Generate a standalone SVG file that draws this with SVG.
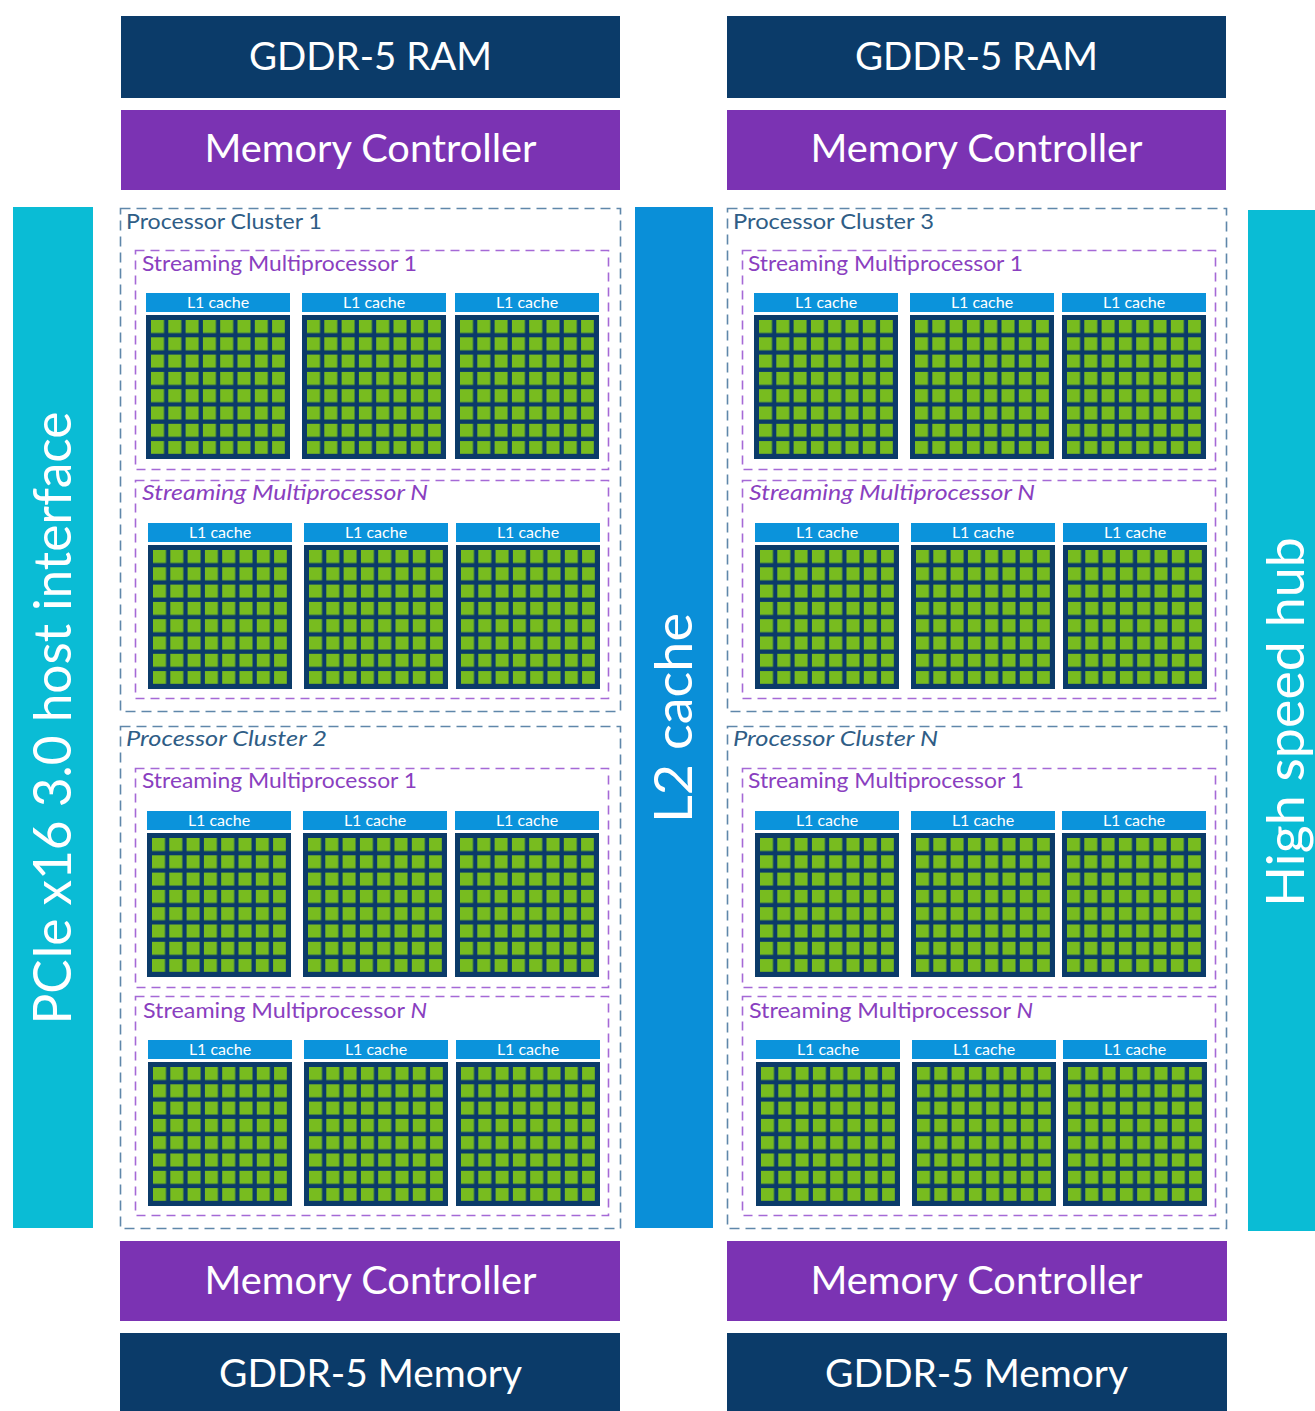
<svg xmlns="http://www.w3.org/2000/svg" width="1315" height="1411" viewBox="0 0 1315 1411">
  <style>
    .ram { fill: #0b3b69; }
    .mc { fill: #7b33b3; }
    .bar-text { fill: #ffffff; font-family: Lato, "Open Sans", sans-serif; font-size: 39px; text-anchor: middle; }
    .vtext { fill: #ffffff; font-family: Lato, "Open Sans", sans-serif; font-size: 52px; text-anchor: middle; }
    .cluster { fill: none; stroke: #5f87aa; stroke-width: 1.6; stroke-dasharray: 10 6; }
    .cluster-label { fill: #2f5d86; font-family: Lato, "Open Sans", sans-serif; font-size: 21px; }
    .sm { fill: none; stroke: #a569d6; stroke-width: 1.6; stroke-dasharray: 9 6; }
    .sm-label { fill: #8a3fc0; font-family: Lato, "Open Sans", sans-serif; font-size: 21.5px; }
    .l1 { fill: #0b93db; }
    .l1-text { fill: #ffffff; font-family: Lato, "Open Sans", sans-serif; font-size: 16px; text-anchor: middle; }
    .grid { fill: #0b3b69; }
    .it { font-style: italic; }
  </style>
  <defs>
    <pattern id="cores" patternUnits="userSpaceOnUse" x="5" y="27" width="17.3" height="17.3">
      <rect x="0" y="0" width="13" height="13" fill="#78bc1f"/>
    </pattern>
  </defs>

  <!-- memory banks -->
  <g id="ram-top-left"><rect class="ram" x="121" y="16" width="499" height="82"/><text class="bar-text" x="370.5" y="70" textLength="243" lengthAdjust="spacingAndGlyphs">GDDR-5 RAM</text></g>
  <g id="ram-top-right"><rect class="ram" x="727" y="16" width="499" height="82"/><text class="bar-text" x="976.5" y="70" textLength="243" lengthAdjust="spacingAndGlyphs">GDDR-5 RAM</text></g>
  <g id="mc-top-left"><rect class="mc" x="121" y="110" width="499" height="80"/><text class="bar-text" x="370.5" y="162" textLength="332" lengthAdjust="spacingAndGlyphs">Memory Controller</text></g>
  <g id="mc-top-right"><rect class="mc" x="727" y="110" width="499" height="80"/><text class="bar-text" x="976.5" y="162" textLength="332" lengthAdjust="spacingAndGlyphs">Memory Controller</text></g>
  <g id="mc-bottom-left"><rect class="mc" x="120" y="1241" width="500" height="80"/><text class="bar-text" x="370.5" y="1294" textLength="332" lengthAdjust="spacingAndGlyphs">Memory Controller</text></g>
  <g id="mc-bottom-right"><rect class="mc" x="727" y="1241" width="500" height="80"/><text class="bar-text" x="976.5" y="1294" textLength="332" lengthAdjust="spacingAndGlyphs">Memory Controller</text></g>
  <g id="mem-bottom-left"><rect class="ram" x="120" y="1333" width="500" height="78"/><text class="bar-text" x="370.5" y="1387" textLength="303" lengthAdjust="spacingAndGlyphs">GDDR-5 Memory</text></g>
  <g id="mem-bottom-right"><rect class="ram" x="727" y="1333" width="500" height="78"/><text class="bar-text" x="976.5" y="1387" textLength="303" lengthAdjust="spacingAndGlyphs">GDDR-5 Memory</text></g>

  <!-- vertical buses -->
  <g id="pcie"><rect x="13" y="207" width="80" height="1021" fill="#0abcd5"/><text class="vtext" transform="translate(71,718) rotate(-90)" textLength="613" lengthAdjust="spacingAndGlyphs">PCIe x16 3.0 host interface</text></g>
  <g id="l2"><rect x="635" y="207" width="78" height="1021" fill="#0a8fd8"/><text class="vtext" transform="translate(692,718) rotate(-90)" textLength="210" lengthAdjust="spacingAndGlyphs">L2 cache</text></g>
  <g id="hub"><rect x="1248" y="210" width="67" height="1021" fill="#0abcd5"/><text class="vtext" transform="translate(1304,722) rotate(-90)" textLength="370" lengthAdjust="spacingAndGlyphs">High speed hub</text></g>

  <!-- processor clusters -->
  <g id="cluster-1">
    <rect class="cluster" x="120.5" y="208.5" width="500" height="503"/>
    <text class="cluster-label" x="126" y="229" textLength="196" lengthAdjust="spacingAndGlyphs">Processor Cluster 1</text>
  </g>
  <g id="cluster-2">
    <rect class="cluster" x="120.5" y="726.5" width="500" height="502"/>
    <text class="cluster-label it" x="126" y="746" textLength="201" lengthAdjust="spacingAndGlyphs">Processor Cluster 2</text>
  </g>
  <g id="cluster-3">
    <rect class="cluster" x="727.5" y="208.5" width="499" height="503"/>
    <text class="cluster-label" x="733" y="229" textLength="201" lengthAdjust="spacingAndGlyphs">Processor Cluster 3</text>
  </g>
  <g id="cluster-n">
    <rect class="cluster" x="727.5" y="726.5" width="499" height="502"/>
    <text class="cluster-label it" x="733" y="746" textLength="205" lengthAdjust="spacingAndGlyphs">Processor Cluster N</text>
  </g>

  <!-- streaming multiprocessors -->
  <g id="sm-1-1"><rect class="sm" x="135.5" y="250.5" width="473" height="219"/><text class="sm-label" x="142" y="271" textLength="275" lengthAdjust="spacingAndGlyphs">Streaming Multiprocessor 1</text></g>
  <g id="sm-1-n"><rect class="sm" x="135.5" y="480.5" width="473" height="218"/><text class="sm-label it" x="142" y="500" textLength="286" lengthAdjust="spacingAndGlyphs">Streaming Multiprocessor N</text></g>
  <g id="sm-2-1"><rect class="sm" x="135.5" y="768.5" width="473" height="219"/><text class="sm-label" x="142" y="788" textLength="275" lengthAdjust="spacingAndGlyphs">Streaming Multiprocessor 1</text></g>
  <g id="sm-2-n"><rect class="sm" x="135.5" y="996.5" width="473" height="219"/><text class="sm-label" x="143" y="1018" textLength="284" lengthAdjust="spacingAndGlyphs">Streaming Multiprocessor <tspan class="it">N</tspan></text></g>
  <g id="sm-3-1"><rect class="sm" x="742.5" y="250.5" width="473" height="219"/><text class="sm-label" x="748" y="271" textLength="275" lengthAdjust="spacingAndGlyphs">Streaming Multiprocessor 1</text></g>
  <g id="sm-3-n"><rect class="sm" x="742.5" y="480.5" width="473" height="218"/><text class="sm-label it" x="749" y="500" textLength="286" lengthAdjust="spacingAndGlyphs">Streaming Multiprocessor N</text></g>
  <g id="sm-n-1"><rect class="sm" x="742.5" y="768.5" width="473" height="219"/><text class="sm-label" x="748" y="788" textLength="276" lengthAdjust="spacingAndGlyphs">Streaming Multiprocessor 1</text></g>
  <g id="sm-n-n"><rect class="sm" x="742.5" y="996.5" width="473" height="219"/><text class="sm-label" x="749" y="1018" textLength="284" lengthAdjust="spacingAndGlyphs">Streaming Multiprocessor <tspan class="it">N</tspan></text></g>

  <!-- core blocks: L1 cache bar over an 8x8 core grid -->
  <g id="cores-1-1-a" transform="translate(146,293)"><rect class="l1" width="144" height="19"/><text class="l1-text" x="72" y="15">L1 cache</text><rect class="grid" y="22" width="144" height="144"/><rect x="5" y="27" width="134" height="134" fill="url(#cores)"/></g>
  <g id="cores-1-1-b" transform="translate(302,293)"><rect class="l1" width="144" height="19"/><text class="l1-text" x="72" y="15">L1 cache</text><rect class="grid" y="22" width="144" height="144"/><rect x="5" y="27" width="134" height="134" fill="url(#cores)"/></g>
  <g id="cores-1-1-c" transform="translate(455,293)"><rect class="l1" width="144" height="19"/><text class="l1-text" x="72" y="15">L1 cache</text><rect class="grid" y="22" width="144" height="144"/><rect x="5" y="27" width="134" height="134" fill="url(#cores)"/></g>

  <g id="cores-1-n-a" transform="translate(148,523)"><rect class="l1" width="144" height="19"/><text class="l1-text" x="72" y="15">L1 cache</text><rect class="grid" y="22" width="144" height="144"/><rect x="5" y="27" width="134" height="134" fill="url(#cores)"/></g>
  <g id="cores-1-n-b" transform="translate(304,523)"><rect class="l1" width="144" height="19"/><text class="l1-text" x="72" y="15">L1 cache</text><rect class="grid" y="22" width="144" height="144"/><rect x="5" y="27" width="134" height="134" fill="url(#cores)"/></g>
  <g id="cores-1-n-c" transform="translate(456,523)"><rect class="l1" width="144" height="19"/><text class="l1-text" x="72" y="15">L1 cache</text><rect class="grid" y="22" width="144" height="144"/><rect x="5" y="27" width="134" height="134" fill="url(#cores)"/></g>

  <g id="cores-2-1-a" transform="translate(147,811)"><rect class="l1" width="144" height="19"/><text class="l1-text" x="72" y="15">L1 cache</text><rect class="grid" y="22" width="144" height="144"/><rect x="5" y="27" width="134" height="134" fill="url(#cores)"/></g>
  <g id="cores-2-1-b" transform="translate(303,811)"><rect class="l1" width="144" height="19"/><text class="l1-text" x="72" y="15">L1 cache</text><rect class="grid" y="22" width="144" height="144"/><rect x="5" y="27" width="134" height="134" fill="url(#cores)"/></g>
  <g id="cores-2-1-c" transform="translate(455,811)"><rect class="l1" width="144" height="19"/><text class="l1-text" x="72" y="15">L1 cache</text><rect class="grid" y="22" width="144" height="144"/><rect x="5" y="27" width="134" height="134" fill="url(#cores)"/></g>

  <g id="cores-2-n-a" transform="translate(148,1040)"><rect class="l1" width="144" height="19"/><text class="l1-text" x="72" y="15">L1 cache</text><rect class="grid" y="22" width="144" height="144"/><rect x="5" y="27" width="134" height="134" fill="url(#cores)"/></g>
  <g id="cores-2-n-b" transform="translate(304,1040)"><rect class="l1" width="144" height="19"/><text class="l1-text" x="72" y="15">L1 cache</text><rect class="grid" y="22" width="144" height="144"/><rect x="5" y="27" width="134" height="134" fill="url(#cores)"/></g>
  <g id="cores-2-n-c" transform="translate(456,1040)"><rect class="l1" width="144" height="19"/><text class="l1-text" x="72" y="15">L1 cache</text><rect class="grid" y="22" width="144" height="144"/><rect x="5" y="27" width="134" height="134" fill="url(#cores)"/></g>

  <g id="cores-3-1-a" transform="translate(754,293)"><rect class="l1" width="144" height="19"/><text class="l1-text" x="72" y="15">L1 cache</text><rect class="grid" y="22" width="144" height="144"/><rect x="5" y="27" width="134" height="134" fill="url(#cores)"/></g>
  <g id="cores-3-1-b" transform="translate(910,293)"><rect class="l1" width="144" height="19"/><text class="l1-text" x="72" y="15">L1 cache</text><rect class="grid" y="22" width="144" height="144"/><rect x="5" y="27" width="134" height="134" fill="url(#cores)"/></g>
  <g id="cores-3-1-c" transform="translate(1062,293)"><rect class="l1" width="144" height="19"/><text class="l1-text" x="72" y="15">L1 cache</text><rect class="grid" y="22" width="144" height="144"/><rect x="5" y="27" width="134" height="134" fill="url(#cores)"/></g>

  <g id="cores-3-n-a" transform="translate(755,523)"><rect class="l1" width="144" height="19"/><text class="l1-text" x="72" y="15">L1 cache</text><rect class="grid" y="22" width="144" height="144"/><rect x="5" y="27" width="134" height="134" fill="url(#cores)"/></g>
  <g id="cores-3-n-b" transform="translate(911,523)"><rect class="l1" width="144" height="19"/><text class="l1-text" x="72" y="15">L1 cache</text><rect class="grid" y="22" width="144" height="144"/><rect x="5" y="27" width="134" height="134" fill="url(#cores)"/></g>
  <g id="cores-3-n-c" transform="translate(1063,523)"><rect class="l1" width="144" height="19"/><text class="l1-text" x="72" y="15">L1 cache</text><rect class="grid" y="22" width="144" height="144"/><rect x="5" y="27" width="134" height="134" fill="url(#cores)"/></g>

  <g id="cores-n-1-a" transform="translate(755,811)"><rect class="l1" width="144" height="19"/><text class="l1-text" x="72" y="15">L1 cache</text><rect class="grid" y="22" width="144" height="144"/><rect x="5" y="27" width="134" height="134" fill="url(#cores)"/></g>
  <g id="cores-n-1-b" transform="translate(911,811)"><rect class="l1" width="144" height="19"/><text class="l1-text" x="72" y="15">L1 cache</text><rect class="grid" y="22" width="144" height="144"/><rect x="5" y="27" width="134" height="134" fill="url(#cores)"/></g>
  <g id="cores-n-1-c" transform="translate(1062,811)"><rect class="l1" width="144" height="19"/><text class="l1-text" x="72" y="15">L1 cache</text><rect class="grid" y="22" width="144" height="144"/><rect x="5" y="27" width="134" height="134" fill="url(#cores)"/></g>

  <g id="cores-n-n-a" transform="translate(756,1040)"><rect class="l1" width="144" height="19"/><text class="l1-text" x="72" y="15">L1 cache</text><rect class="grid" y="22" width="144" height="144"/><rect x="5" y="27" width="134" height="134" fill="url(#cores)"/></g>
  <g id="cores-n-n-b" transform="translate(912,1040)"><rect class="l1" width="144" height="19"/><text class="l1-text" x="72" y="15">L1 cache</text><rect class="grid" y="22" width="144" height="144"/><rect x="5" y="27" width="134" height="134" fill="url(#cores)"/></g>
  <g id="cores-n-n-c" transform="translate(1063,1040)"><rect class="l1" width="144" height="19"/><text class="l1-text" x="72" y="15">L1 cache</text><rect class="grid" y="22" width="144" height="144"/><rect x="5" y="27" width="134" height="134" fill="url(#cores)"/></g>

  <!-- no connectors in this block diagram -->
  <g id="connectors"/>
</svg>
